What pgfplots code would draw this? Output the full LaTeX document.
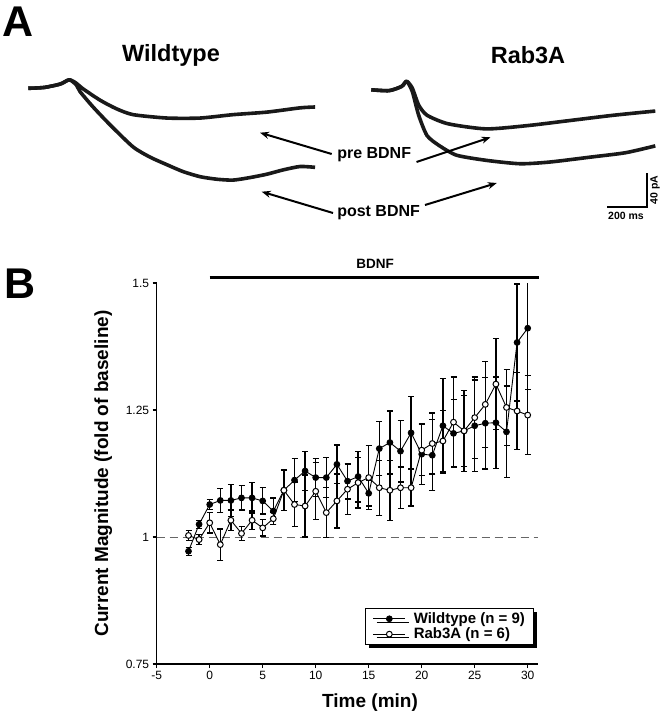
\documentclass[border=0pt]{standalone}
\usepackage{pgfplots}
\pgfplotsset{compat=1.18}
\usepackage{pgfplotstable}
\usepackage{fontspec}
\setmainfont{Liberation Sans}
\usetikzlibrary{arrows.meta,shadows}

% time (min), mean (fold of baseline), SEM
\pgfplotstableread{
t m e
-2 0.972 0.008
-1 1.025 0.008
0 1.064 0.010
1 1.072 0.024
2 1.072 0.032
3 1.077 0.024
4 1.077 0.030
5 1.071 0.026
6 1.051 0.026
7 1.092 0.040
8 1.112 0.042
9 1.130 0.038
10 1.117 0.037
11 1.117 0.039
12 1.143 0.038
13 1.110 0.035
14 1.119 0.050
15 1.086 0.025
16 1.174 0.053
17 1.186 0.062
18 1.169 0.061
19 1.205 0.071
20 1.163 0.060
21 1.161 0.070
22 1.219 0.093
23 1.204 0.066
24 1.209 0.080
25 1.219 0.090
26 1.224 0.090
27 1.225 0.090
28 1.207 0.090
29 1.383 0.115
30 1.411 0.120
}\wildtype

\pgfplotstableread{
t m e
-2 1.003 0.010
-1 0.995 0.010
0 1.028 0.020
1 0.985 0.031
2 1.033 0.020
3 1.007 0.014
4 1.033 0.018
5 1.018 0.016
6 1.036 0.012
7 1.092 0.040
8 1.064 0.044
9 1.061 0.061
10 1.090 0.056
11 1.048 0.049
12 1.071 0.053
13 1.094 0.050
14 1.107 0.050
15 1.117 0.063
16 1.097 0.054
17 1.092 0.059
18 1.097 0.041
19 1.097 0.036
20 1.171 0.050
21 1.184 0.060
22 1.189 0.060
23 1.226 0.089
24 1.209 0.070
25 1.235 0.080
26 1.261 0.085
27 1.301 0.090
28 1.255 0.075
29 1.248 0.076
30 1.240 0.078
}\rabthreea

\pgfplotsset{
  trace/.style={hide axis, clip=false, x=0.2pt, y=0.85pt,
    xmin=0, xmax=1435, ymin=-120, ymax=20, anchor=south west},
  tracestyle/.style={black!90, line width=3.6pt, smooth, tension=0.4, line join=round},
}

\begin{document}
\begin{tikzpicture}
\useasboundingbox (0pt,0pt) rectangle (663pt,-719pt);

% ---------- panel A ----------
\node[font=\bfseries\fontsize{43}{43}\selectfont] at (18pt,-22pt) {A};
\node[font=\bfseries\fontsize{23.5}{28}\selectfont] at (171pt,-55pt) {Wildtype};
\node[font=\bfseries\fontsize{23.5}{28}\selectfont] at (528pt,-55pt) {Rab3A};

% wildtype traces (ms, pA)
\begin{axis}[trace, at={(28.3pt,-190.3pt)}]
\addplot[tracestyle] coordinates {
  (0,0) (80,1) (160,5) (205,10) (240,6) (270,0) (359,-14) (440,-24)
  (524,-31) (694,-35) (859,-35) (1024,-31) (1194,-28) (1359,-23) (1434,-22)
};
\addplot[tracestyle] coordinates {
  (0,0) (80,1) (160,5) (205,10) (240,4) (259,-4) (324,-22) (409,-43)
  (524,-69) (609,-81) (694,-90) (774,-98) (859,-104) (944,-107) (1024,-108)
  (1109,-105) (1194,-101) (1274,-96) (1359,-92) (1434,-93)
};
\end{axis}

% Rab3A traces (ms, pA)
\begin{axis}[trace, at={(371.3pt,-191.8pt)}]
\addplot[tracestyle] coordinates {
  (0,0) (89,-1) (152,4) (177,10) (205,2) (237,-18) (279,-30) (384,-40)
  (575,-46) (786,-42) (998,-36) (1209,-30) (1420,-25)
};
\addplot[tracestyle] coordinates {
  (0,0) (89,-1) (152,4) (177,10) (205,-2) (237,-30) (279,-54) (342,-66)
  (427,-77) (575,-83) (744,-87) (892,-85) (1103,-79) (1272,-74) (1420,-66)
};
\end{axis}

\node[font=\bfseries\fontsize{16}{19}\selectfont] at (374.2pt,-155pt) {pre BDNF};
\node[font=\bfseries\fontsize{16}{19}\selectfont] at (378.6pt,-212.7pt) {post BDNF};
\begin{scope}[line width=2pt, -{Stealth[length=9pt,width=7pt]}]
  \draw (331.7pt,-154pt) -- (260pt,-132.7pt);
  \draw (416.5pt,-162pt) -- (490.5pt,-137.3pt);
  \draw (333pt,-213pt) -- (261.7pt,-191.7pt);
  \draw (425pt,-205pt) -- (496.8pt,-183pt);
\end{scope}

% scale bar
\draw[line width=1.6pt] (607pt,-206.8pt) -- (647pt,-206.8pt) -- (647pt,-172.9pt);
\node[font=\bfseries\fontsize{10.5}{12}\selectfont, rotate=90] at (655pt,-190pt) {40 pA};
\node[font=\bfseries\fontsize{10.5}{12}\selectfont] at (626pt,-216pt) {200 ms};

% ---------- panel B ----------
\node[font=\bfseries\fontsize{43}{43}\selectfont] at (20pt,-284pt) {B};

\begin{axis}[
  at={(156.7pt,-664pt)}, anchor=south west,
  scale only axis, width=381.6pt, height=381pt,
  xmin=-5, xmax=31, ymin=0.75, ymax=1.5,
  axis x line=bottom, axis y line=left,
  axis line style={-, line width=1.2pt, black},
  xtick={-5,0,5,10,15,20,25,30},
  ytick={0.75,1,1.25,1.5}, yticklabels={0.75,1,1.25,1.5},
  tick align=outside, major tick length=4pt,
  tick style={line width=1.2pt, black},
  /pgf/number format/assume math mode=true,
  tick label style={font=\fontsize{12}{14}\selectfont},
  xlabel={Time (min)},
  xlabel style={at={(axis description cs:0.559,-0.102)}, anchor=center,
    font=\bfseries\fontsize{19}{23}\selectfont},
  ylabel={Current Magnitude (fold of baseline)},
  ylabel style={at={(axis description cs:-0.14,0.5)}, anchor=center,
    font=\bfseries\fontsize{19}{23}\selectfont},
  legend style={at={(0.99,0.05)}, anchor=south east, draw=black, line width=1.2pt,
    fill=white,
    drop shadow={shadow xshift=3.5pt, shadow yshift=-3.5pt, fill=black, opacity=1},
    font=\bfseries\fontsize{15}{17}\selectfont,
    inner xsep=7pt, inner ysep=2pt, row sep=-1pt, column sep=6pt},
  legend cell align=left,
  legend image code/.code={
    \draw[mark repeat=2, mark phase=2] plot coordinates {(0pt,0pt) (16pt,0pt) (32pt,0pt)};
  },
]
\addplot[black!60, line width=1pt, dash pattern=on 8pt off 5pt, forget plot]
  coordinates {(-5,1) (31,1)};

\addplot[black, line width=0.9pt, mark=*, mark size=2.9pt,
  mark options={solid, fill=black},
  error bars/.cd, y dir=both, y explicit,
  error bar style={line width=1.3pt, black},
  error mark options={rotate=90, mark size=3pt, line width=1.3pt, black}]
  table[x=t, y=m, y error=e] {\wildtype};
\addlegendentry{Wildtype (n = 9)}

\addplot[black, line width=0.9pt, mark=*, mark size=2.9pt,
  mark options={solid, fill=white, line width=1pt},
  error bars/.cd, y dir=both, y explicit,
  error bar style={line width=1.3pt, black},
  error mark options={rotate=90, mark size=3pt, line width=1.3pt, black}]
  table[x=t, y=m, y error=e] {\rabthreea};
\addlegendentry{Rab3A (n = 6)}
\end{axis}

% BDNF application bar
\draw[line width=3pt] (209.7pt,-277pt) -- (539pt,-277pt);
\node[font=\bfseries\fontsize{13.5}{16}\selectfont] at (375pt,-264pt) {BDNF};
\end{tikzpicture}
\end{document}
